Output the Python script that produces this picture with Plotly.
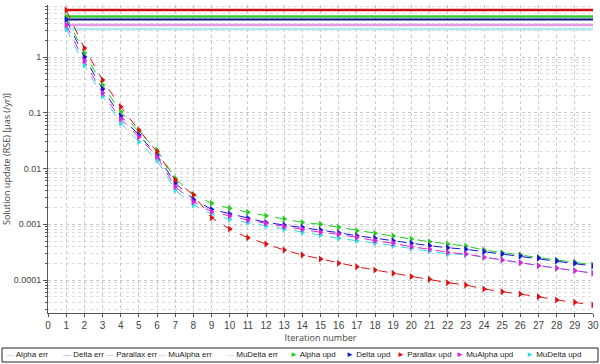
import plotly.graph_objects as go

iterations = list(range(1, 31))

# err levels (constant over all iterations)
alpha_err = 5.33
delta_err = 4.71
parallax_err = 6.97
mualpha_err = 3.75
mudelta_err = 3.18

alpha_upd = [5.33, 1.18, 0.315, 0.104, 0.0457, 0.0215, 0.00667, 0.00342, 0.00238, 0.00193,
             0.00164, 0.00142, 0.00124, 0.00108, 0.000998, 0.000881, 0.000766, 0.000688, 0.000615, 0.000543,
             0.000486, 0.000443, 0.000407, 0.000345, 0.000309, 0.000281, 0.000255, 0.000228, 0.000208, 0.000186]
delta_upd = [4.71, 1.0, 0.267, 0.0874, 0.0399, 0.01746, 0.0055, 0.0028, 0.00185, 0.00153,
             0.00128, 0.00108, 0.00097, 0.000881, 0.000788, 0.000705, 0.000623, 0.00056, 0.000507, 0.000455,
             0.000412, 0.000379, 0.000356, 0.000322, 0.000292, 0.000269, 0.000245, 0.000219, 0.0002, 0.000178]
parallax_upd = [6.97, 1.45, 0.387, 0.128, 0.049, 0.020, 0.0062, 0.00335, 0.00131, 0.00082,
                0.000574, 0.000443, 0.000345, 0.000281, 0.000238, 0.0002, 0.000173, 0.000151, 0.000132, 0.000115,
                0.000103, 8.95e-5, 8.13e-5, 6.9e-5, 6.17e-5, 5.61e-5, 5.02e-5, 4.38e-5, 3.98e-5, 3.56e-5]
mualpha_upd = [3.75, 0.848, 0.226, 0.0773, 0.0367, 0.0163, 0.00472, 0.00254, 0.00168, 0.00141,
               0.00119, 0.00104, 0.000904, 0.000811, 0.000718, 0.00066, 0.000583, 0.000507, 0.000455, 0.000395,
               0.000356, 0.000314, 0.000292, 0.000255, 0.000228, 0.000204, 0.00018, 0.000162, 0.000147, 0.000132]
mudelta_upd = [3.18, 0.719, 0.2, 0.0655, 0.0303, 0.0142, 0.00411, 0.00221, 0.00153, 0.00123,
               0.00107, 0.000942, 0.000811, 0.000718, 0.000641, 0.00056, 0.000507, 0.000467, 0.000412, 0.000371,
               0.000331, 0.000292, 0.000287, 0.000254, 0.000228, 0.000205, 0.000182, 0.000163, 0.000148, 0.000133]

y_tickvals = [1, 0.1, 0.01, 0.001, 0.0001]
y_ticktext = ["1", "0.1", "0.01", "0.001", "0.0001"]

err_series = [
    ("Alpha err", alpha_err, "#33cc33", 2.5),
    ("Delta err", delta_err, "#101080", 2),
    ("Parallax err", parallax_err, "#cc1010", 2.5),
    ("MuAlpha err", mualpha_err, "#e49ae4", 2.5),
    ("MuDelta err", mudelta_err, "#aeeaea", 2.5),
]
# drawn so that magenta sits above cyan, like the reference
upd_series = [
    ("MuDelta upd", mudelta_upd, "#33dddd"),
    ("Alpha upd", alpha_upd, "#22cc22"),
    ("Delta upd", delta_upd, "#1515dd"),
    ("MuAlpha upd", mualpha_upd, "#dd22dd"),
    ("Parallax upd", parallax_upd, "#dd1111"),
]

# legend entries in reference order: (label, swatch, swatch colour, left edge in px)
legend_items = [
    ("Alpha err", "—", "#99e099", 4),
    ("Delta err", "—", "#9c9cdc", 61),
    ("Parallax err", "—", "#eb9aac", 104),
    ("MuAlpha err", "—", "#eca4ec", 156),
    ("MuDelta err", "—", "#a4e8e8", 224),
    ("Alpha upd", "►", "#22cc22", 288),
    ("Delta upd", "►", "#1515dd", 344),
    ("Parallax upd", "►", "#dd1111", 395),
    ("MuAlpha upd", "►", "#dd22dd", 454),
    ("MuDelta upd", "►", "#33dddd", 524),
]

fig = go.Figure()

for name, level, color, width in err_series:
    fig.add_trace(go.Scatter(
        x=iterations, y=[level] * len(iterations), mode="lines", name=name,
        line={"color": color, "width": width}, showlegend=False,
    ))

for name, values, color in upd_series:
    fig.add_trace(go.Scatter(
        x=iterations, y=values, mode="lines+markers", name=name,
        line={"color": color, "width": 1, "dash": "dash"},
        marker={"symbol": "triangle-right", "size": 6, "color": color},
        showlegend=False,
    ))

grid = "#c8c8c8"
fig.update_xaxes(
    range=[0, 30], dtick=1, tick0=0, automargin=False,
    showgrid=True, gridcolor=grid, griddash="dot", gridwidth=1,
    showline=True, linecolor="#555", ticks="outside", ticklen=3, tickcolor="#555",
    tickfont={"size": 10, "color": "#444", "family": "Liberation Sans"},
    title={"text": "Iteration number", "font": {"size": 9, "color": "#444"}, "standoff": 2},
    zeroline=False,
)
fig.update_yaxes(
    type="log", range=[-4.592, 0.933], automargin=False,
    tickvals=y_tickvals, ticktext=y_ticktext,
    showgrid=True, gridcolor=grid, griddash="dot", gridwidth=1,
    minor={"dtick": "D1", "showgrid": True, "gridcolor": "#dddddd", "griddash": "dot",
           "ticks": "outside", "ticklen": 2, "tickcolor": "#555"},
    showline=True, linecolor="#555", ticks="outside", ticklen=4, tickcolor="#555",
    tickfont={"size": 9, "color": "#444", "family": "Liberation Sans"},
    title={"text": "Solution update (RSE) [µas (/yr)]", "font": {"size": 9, "color": "#444"}, "standoff": 2},
    zeroline=False,
)

# legend box below the plot
plot_l, plot_r, plot_t, plot_b = 48, 593, 5, 313


def px_to_paper_x(px):
    return (px - plot_l) / (plot_r - plot_l)


def px_to_paper_y(py):
    return (plot_b - py) / (plot_b - plot_t)


fig.add_shape(
    type="rect", xref="paper", yref="paper",
    x0=px_to_paper_x(2), x1=px_to_paper_x(598), y0=px_to_paper_y(362), y1=px_to_paper_y(348),
    line={"color": "#222", "width": 1}, fillcolor="white",
)
for label, swatch, color, left in legend_items:
    fig.add_annotation(
        text=f"<span style='color:{color}'>{swatch}</span> {label}",
        xref="paper", yref="paper", x=px_to_paper_x(left), y=px_to_paper_y(355),
        xanchor="left", yanchor="middle", showarrow=False,
        font={"size": 8, "color": "#222", "family": "Liberation Sans"},
    )

fig.update_layout(
    width=600, height=364,
    margin={"l": plot_l, "r": 600 - plot_r, "t": plot_t, "b": 364 - plot_b},
    plot_bgcolor="white", paper_bgcolor="white",
    showlegend=False,
)

fig.write_html(
    "out.html",
    config={"displayModeBar": False},
    post_script="document.body.style.margin='0';",
)
